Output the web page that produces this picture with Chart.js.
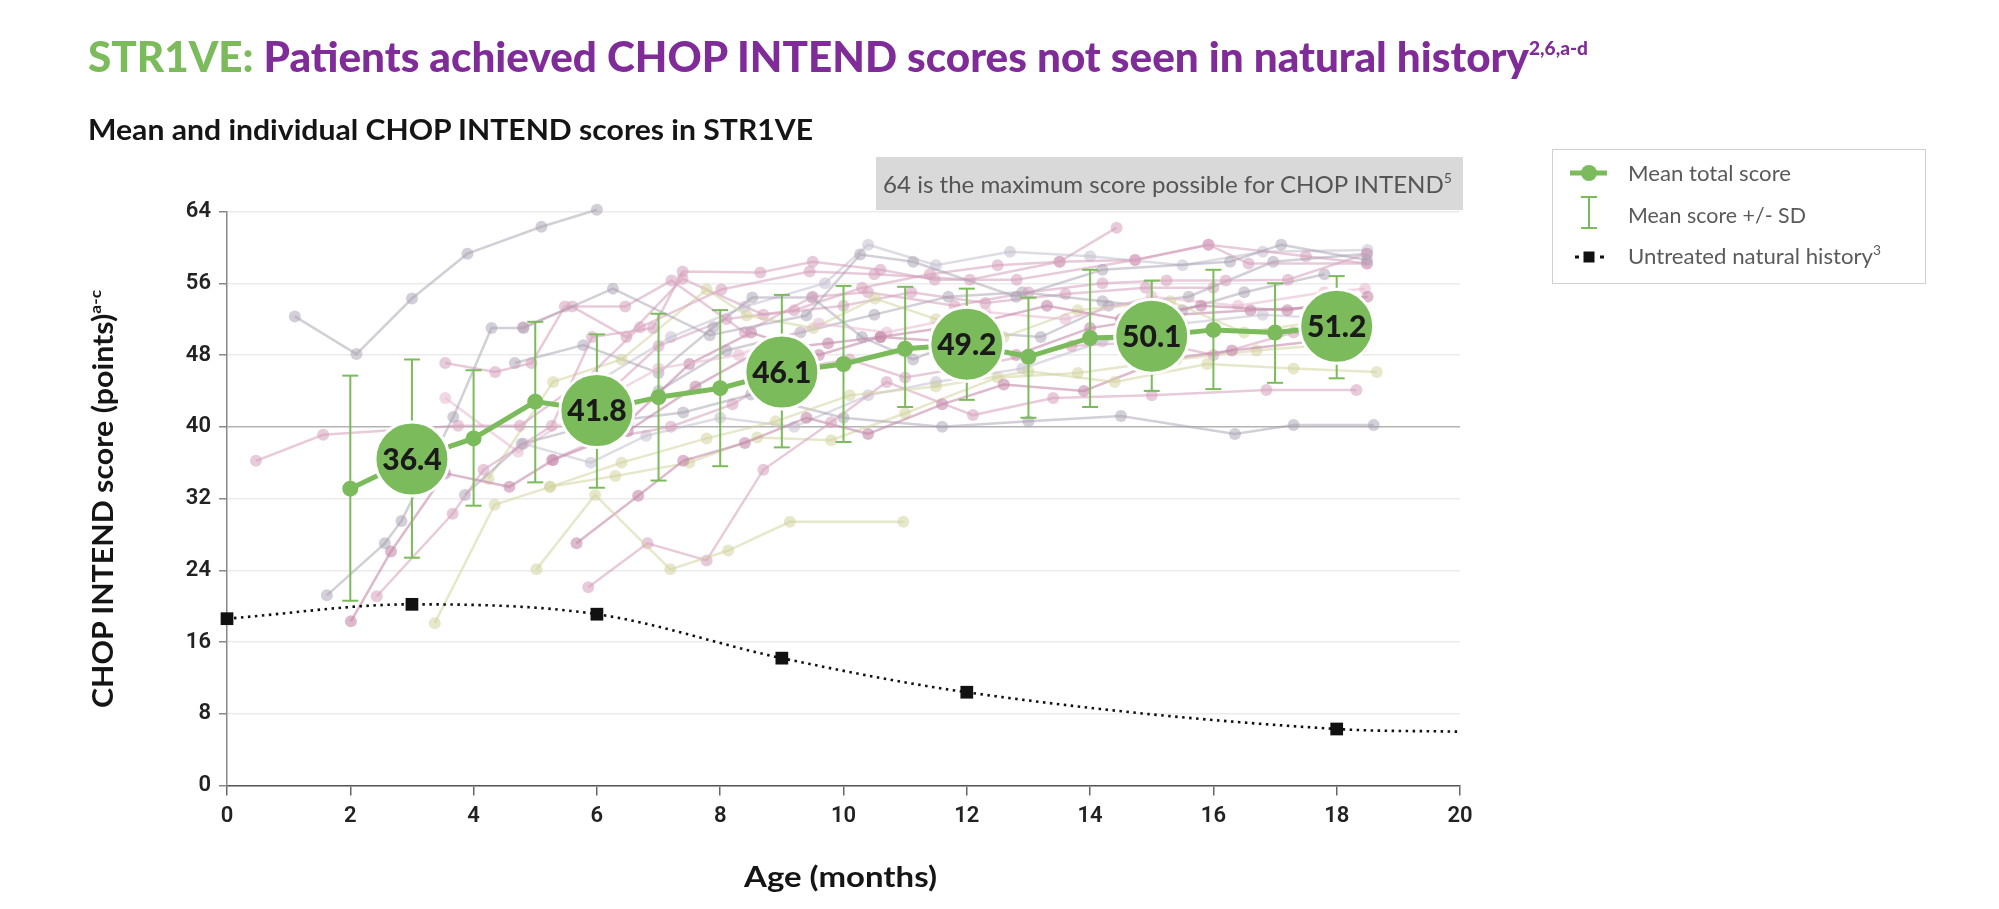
<!DOCTYPE html>
<html><head><meta charset="utf-8">
<script src="https://cdn.jsdelivr.net/npm/chart.js@4.4.1/dist/chart.umd.min.js"></script>
<style>
html,body{margin:0;padding:0;background:#fff;width:1999px;height:909px;overflow:hidden;}
#wrap{position:relative;width:1999px;height:909px;}
canvas{position:absolute;left:0;top:0;}
.t{position:absolute;white-space:nowrap;line-height:1.25;left:0;top:0;}
.sup{position:relative;vertical-align:baseline;}
#legendBox{position:absolute;left:1552px;top:149px;width:374px;height:135px;border:1.5px solid #d0d0d0;box-sizing:border-box;}
#noteBox{position:absolute;left:876px;top:157px;width:587px;height:53px;background:#d9d9d9;}
</style></head>
<body><div id="wrap">
<div id="noteBox"></div>
<canvas id="c" width="1999" height="909"></canvas>
<div id="legendBox"></div>
<div class="t" id="title" style="font:900 42px Lato;color:#7f2b98"><span style="color:#7cbb5b">STR1VE:</span> Patients achieved CHOP INTEND scores not seen in natural history<span class="sup" style="font-size:19px;top:-17px">2,6,a-d</span></div>
<div class="t" id="subtitle" style="font:700 28px Lato;color:#151515">Mean and individual CHOP INTEND scores in STR1VE</div>
<div class="t" id="note" style="font:400 24px Lato;color:#555">64 is the maximum score possible for CHOP INTEND<span class="sup" style="font-size:14px;top:-10px">5</span></div>
<div class="t" id="lg1" style="font:400 21px Lato;color:#5a5a5a">Mean total score</div>
<div class="t" id="lg2" style="font:400 21px Lato;color:#5a5a5a">Mean score +/- SD</div>
<div class="t" id="lg3" style="font:400 21px Lato;color:#5a5a5a">Untreated natural history<span class="sup" style="font-size:13px;top:-9px">3</span></div>
<div class="t" id="ytitle" style="font:700 28px Lato;color:#151515">CHOP INTEND score (points)<span class="sup" style="font-size:16px;top:-12px">a-c</span></div>
<div class="t" id="xtitle" style="font:700 28px Lato;color:#151515">Age (months)</div>
</div>
<script>
// ---------- DATA ----------
const meanAges   = [2, 3, 4, 5, 6, 7, 8, 9, 10, 11, 12, 13, 14, 15, 16, 17, 18];
const meanScores = [33.1, 36.4, 38.7, 42.8, 41.8, 43.3, 44.3, 46.1, 47.0, 48.7, 49.2, 47.8, 49.9, 50.1, 50.8, 50.5, 51.2];
const meanLabels = [null, '36.4', null, null, '41.8', null, null, '46.1', null, null, '49.2', null, null, '50.1', null, null, '51.2'];
const sdLow  = [20.6, 25.4, 31.2, 33.8, 33.2, 34.0, 35.6, 37.7, 38.3, 42.2, 43.0, 41.0, 42.2, 44.0, 44.2, 44.9, 45.4];
const sdHigh = [45.7, 47.5, 46.3, 51.7, 50.3, 52.6, 53.0, 54.7, 55.7, 55.6, 55.4, 54.4, 57.5, 56.3, 57.5, 56.0, 56.8];

const nhAges   = [0, 3, 6, 9, 12, 18, 20];
const nhScores = [18.6, 20.2, 19.1, 14.2, 10.4, 6.3, 6.0];

const xTicks = [0, 2, 4, 6, 8, 10, 12, 14, 16, 18, 20];
const yTicks = [0, 8, 16, 24, 32, 40, 48, 56, 64];

const patientAges = [
  [1.1, 2.1, 3.0, 3.9, 5.1, 6.0],
  [1.62, 2.56, 2.83, 3.67, 4.29, 4.81, 6.26, 7.83, 9.4, 10.27, 11.13, 12.8, 14.2, 16.27, 17.1, 18.49],
  [2.01, 2.66, 3.54, 4.58, 5.29, 6.5, 7.6, 8.65, 9.75, 10.6, 12.1, 13.3, 14.5, 15.8, 17.2, 18.5],
  [2.43, 3.66, 4.16, 5.27, 5.92, 6.91, 7.39, 8.65, 9.5, 10.6, 11.48, 12.81, 14.73, 15.92, 16.57, 18.49],
  [3.37, 4.34, 5.24, 6.4, 7.78, 8.9, 10.1, 11.5, 13.0, 14.4, 15.9, 17.3, 18.65],
  [5.02, 5.97, 7.19, 8.13, 9.13, 10.97],
  [5.86, 6.82, 7.78, 8.7, 9.8, 10.7, 12.1, 13.4, 15.0, 16.86, 18.32],
  [5.67, 6.67, 7.4, 8.4, 9.4, 10.4, 11.6, 12.6, 13.9, 15.2, 16.3, 17.6, 18.4],
  [3.86, 4.78, 6.1, 7.4, 8.5, 10.0, 11.6, 13.0, 14.5, 16.35, 17.3, 18.6],
  [0.47, 1.56, 3.75, 4.75, 5.8, 6.7, 8.02, 9.45, 10.5, 12.05, 13.5, 14.43],
  [3.54, 4.72, 5.8, 7.0, 8.3, 9.6, 10.7, 12.3, 13.6, 15.0, 16.4, 17.8, 18.46],
  [4.24, 5.29, 6.4, 7.78, 8.43, 9.51, 10.51, 11.5, 12.6, 13.8, 15.3, 16.5, 17.5, 18.3],
  [3.54, 4.35, 4.94, 5.48, 6.46, 7.21, 8.4, 9.5, 10.4, 11.8, 13.0, 14.2, 15.24, 16.2, 17.21, 18.49],
  [4.67, 5.78, 7.0, 7.89, 8.52, 9.49, 10.3, 11.13, 12.2, 13.2, 14.3, 15.6, 16.97, 18.49],
  [5.27, 6.0, 7.2, 8.2, 9.2, 10.1, 11.0, 12.3, 13.7, 15.0, 16.0, 17.3, 18.0],
  [4.81, 5.9, 6.8, 8.0, 9.2, 10.4, 11.5, 12.9, 14.2, 15.5, 16.8, 18.1],
  [5.24, 6.3, 7.5, 8.6, 9.8, 11.0, 12.5, 13.8, 15.4, 16.7, 17.6],
  [6.5, 7.5, 8.5, 9.6, 10.6, 11.7, 12.8, 14.0, 15.4, 16.6, 18.2],
  [5.9, 7.0, 8.1, 9.2, 10.3, 11.4, 12.5, 13.51, 14.73, 15.92, 17.5, 18.49],
  [6.0, 7.2, 8.4, 9.7, 10.4, 11.5, 12.7, 14.0, 15.5, 16.8, 18.5],
  [7.0, 8.1, 9.3, 10.5, 11.7, 12.9, 14.2, 15.5, 16.5, 17.8],
  [4.8, 5.6, 6.48, 7.39, 8.7, 10.0, 11.1, 12.3, 13.6, 14.9, 16.0]
];
const patientScores = [
  [52.3, 48.1, 54.3, 59.3, 62.3, 64.2],
  [21.2, 27.0, 29.5, 41.1, 51.0, 51.0, 55.4, 50.2, 52.4, 59.2, 58.4, 54.5, 57.5, 58.4, 60.3, 58.6],
  [18.3, 26.1, 34.8, 33.3, 36.3, 39.5, 44.5, 48.5, 49.3, 50.0, 51.5, 53.5, 52.0, 53.5, 53.0, 54.5],
  [21.1, 30.3, 35.2, 40.1, 50.0, 51.0, 57.3, 57.2, 58.4, 57.5, 56.4, 56.4, 58.6, 60.3, 58.2, 58.2],
  [18.1, 31.3, 33.3, 36.0, 38.7, 40.6, 43.5, 44.5, 46.2, 45.0, 47.0, 46.5, 46.1],
  [24.1, 32.4, 24.1, 26.2, 29.4, 29.4],
  [22.1, 27.0, 25.1, 35.2, 40.5, 45.0, 41.3, 43.2, 43.5, 44.1, 44.1],
  [27.0, 32.3, 36.2, 38.2, 41.0, 39.2, 42.5, 44.7, 44.0, 47.5, 48.5, 49.5, 48.8],
  [32.4, 38.1, 40.5, 41.6, 43.6, 41.0, 40.0, 40.6, 41.2, 39.2, 40.2, 40.2],
  [36.2, 39.1, 40.1, 40.1, 45.2, 51.1, 55.3, 57.3, 57.0, 56.4, 58.4, 62.2],
  [43.2, 37.2, 42.0, 46.5, 48.0, 51.5, 50.5, 52.8, 52.0, 54.5, 53.5, 55.0, 55.4],
  [34.2, 45.0, 47.5, 55.3, 52.4, 51.0, 54.3, 52.0, 50.0, 53.0, 54.0, 50.5, 51.5, 52.5],
  [47.1, 46.1, 47.1, 53.4, 53.4, 56.3, 50.5, 54.5, 55.0, 53.5, 55.0, 56.0, 56.3, 56.3, 56.4, 59.3],
  [47.1, 49.1, 46.0, 51.1, 54.4, 54.4, 50.0, 47.5, 50.5, 50.0, 53.5, 54.5, 58.4, 59.3],
  [36.3, 38.5, 40.0, 42.5, 46.5, 47.5, 45.5, 47.0, 49.0, 49.5, 48.0, 50.5, 49.5],
  [38.1, 36.0, 39.0, 41.0, 40.0, 43.5, 45.0, 46.5, 49.5, 51.5, 52.5, 52.0],
  [33.3, 34.5, 36.0, 38.8, 38.5, 41.5, 45.5, 46.0, 47.5, 48.5, 49.0],
  [40.5, 47.0, 50.5, 48.0, 50.0, 49.5, 48.0, 51.0, 52.5, 53.0, 53.5],
  [42.0, 49.0, 52.0, 53.0, 55.5, 57.0, 58.0, 58.4, 58.6, 60.3, 59.0, 58.2],
  [45.0, 50.0, 53.4, 56.0, 60.3, 58.0, 59.5, 59.0, 58.0, 59.5, 59.7],
  [44.0, 48.5, 50.5, 52.5, 54.5, 55.0, 54.0, 53.0, 55.0, 57.0],
  [51.1, 53.4, 50.0, 56.5, 52.5, 53.5, 55.0, 53.8, 54.8, 55.5, 55.5]
];
const patientTones = ['gray','gray','mauve','pink','beige','beige','pink','mauve','gray','pink','lightpink',
  'beige','pink','gray','pink','lightgray','beige','mauve','pink','lightgray','gray','pink'];

// ---------- STYLE ----------
const GREEN = '#7cbb5b';
const toneColor = {
  mauve: 'rgba(196,138,170,0.60)',
  pink: 'rgba(214,160,188,0.55)',
  lightpink: 'rgba(232,190,210,0.60)',
  gray: 'rgba(168,160,178,0.50)',
  lightgray: 'rgba(196,192,208,0.55)',
  beige: 'rgba(212,212,160,0.55)'
};

const datasets = [];
patientAges.forEach((ages, i) => {
  const c = toneColor[patientTones[i]];
  datasets.push({
    data: ages.map((a, j) => ({x: a, y: patientScores[i][j]})),
    borderColor: c, backgroundColor: c, pointBackgroundColor: c,
    borderWidth: 2.5, pointRadius: 6, pointBorderWidth: 0, tension: 0,
    order: 10, clip: false
  });
});
datasets.push({
  data: nhAges.map((a, j) => ({x: a, y: nhScores[j]})),
  borderColor: '#111', backgroundColor: '#111', pointBackgroundColor: '#111',
  borderWidth: 2.6, borderDash: [2.5, 4.5], cubicInterpolationMode: 'monotone',
  pointStyle: 'rect', pointRadius: c => c.dataIndex === nhAges.length - 1 ? 0 : 9, pointBorderWidth: 0,
  order: 5, clip: false
});
const errData = [];
meanAges.forEach((a, j) => { errData.push({x: a, y: sdLow[j]}, {x: a, y: sdHigh[j]}, {x: a, y: null}); });
datasets.push({
  data: errData, borderColor: GREEN, backgroundColor: GREEN, borderWidth: 2,
  pointStyle: 'line', pointRadius: 8, pointBorderWidth: 2, pointBorderColor: GREEN,
  spanGaps: false, tension: 0, order: 3, clip: false
});
const meanIndex = datasets.length;
datasets.push({
  data: meanAges.map((a, j) => ({x: a, y: meanScores[j]})),
  borderColor: GREEN, backgroundColor: GREEN, pointBackgroundColor: GREEN,
  borderWidth: 5, tension: 0,
  pointRadius: meanLabels.map(l => l ? 37 : 8),
  pointBorderColor: meanLabels.map(l => l ? '#ffffff' : GREEN),
  pointBorderWidth: meanLabels.map(l => l ? 3 : 0),
  order: 1, clip: false
});

const circleLabels = {
  id: 'circleLabels',
  afterDatasetsDraw(chart) {
    const meta = chart.getDatasetMeta(meanIndex);
    const ctx = chart.ctx;
    ctx.save();
    ctx.font = '900 30px Lato';
    ctx.fillStyle = '#1a1a1a';
    ctx.textAlign = 'center';
    ctx.textBaseline = 'middle';
    meta.data.forEach((pt, i) => { if (meanLabels[i]) ctx.fillText(meanLabels[i], pt.x, pt.y + 1); });
    ctx.restore();
  }
};
const legendIcons = {
  id: 'legendIcons',
  afterDraw(chart) {
    const ctx = chart.ctx;
    ctx.save();
    ctx.strokeStyle = GREEN; ctx.lineWidth = 5;
    ctx.beginPath(); ctx.moveTo(1570, 173); ctx.lineTo(1607, 173); ctx.stroke();
    ctx.fillStyle = GREEN; ctx.beginPath(); ctx.arc(1589, 173, 8, 0, Math.PI * 2); ctx.fill();
    ctx.lineWidth = 2;
    ctx.beginPath(); ctx.moveTo(1589, 197); ctx.lineTo(1589, 228);
    ctx.moveTo(1581, 197); ctx.lineTo(1597, 197);
    ctx.moveTo(1581, 228); ctx.lineTo(1597, 228); ctx.stroke();
    ctx.fillStyle = '#111';
    ctx.fillRect(1575, 255.5, 4, 3); ctx.fillRect(1600, 255.5, 4, 3);
    ctx.fillRect(1583.5, 251.5, 11, 11);
    ctx.restore();
  }
};

new Chart(document.getElementById('c'), {
  type: 'line',
  data: {datasets},
  options: {
    responsive: false, animation: false, devicePixelRatio: 1, events: [],
    layout: {padding: {left: 0, right: 539, top: 211.5, bottom: 0}},
    plugins: {legend: {display: false}, tooltip: {enabled: false}},
    scales: {
      x: {
        type: 'linear', min: 0, max: 20,
        afterBuildTicks: s => { s.ticks = xTicks.map(v => ({value: v})); },
        ticks: {color: '#222', font: {family: 'Roboto', size: 22, weight: '600'}, padding: 8},
        grid: {drawOnChartArea: false, drawTicks: true, tickLength: 10, color: '#666', lineWidth: 1.5},
        border: {color: '#555', width: 1.5},
        afterFit: s => { s.height = 123.5; }
      },
      y: {
        type: 'linear', min: 0, max: 64,
        afterBuildTicks: s => { s.ticks = yTicks.map(v => ({value: v})); },
        ticks: {color: '#222', font: {family: 'Roboto', size: 22, weight: '600'}, padding: 8},
        grid: {color: c => (c.tick && c.tick.value === 40) ? '#b3b3b3' : '#ebebeb', lineWidth: 1.5, tickLength: 8, tickColor: '#888'},
        border: {color: '#888', width: 1.5},
        afterFit: s => { s.width = 227; }
      }
    }
  },
  plugins: [circleLabels, legendIcons]
});

// ---------- TEXT PLACEMENT ----------
function baselineOffset(el) {
  const p = document.createElement('span');
  p.style.cssText = 'display:inline-block;width:0;height:0;vertical-align:baseline;';
  el.appendChild(p);
  const off = p.getBoundingClientRect().top - el.getBoundingClientRect().top;
  el.removeChild(p);
  return off;
}
function place(id, x, base, tw, align) {
  const el = document.getElementById(id);
  el.style.transform = 'none'; el.style.left = '0px'; el.style.top = '0px';
  const w = el.getBoundingClientRect().width;
  const b = baselineOffset(el);
  const s = tw ? tw / w : 1;
  el.style.transformOrigin = '0 0';
  el.style.transform = 'scaleX(' + s + ')';
  el.style.left = (align === 'center' ? x - w * s / 2 : x) + 'px';
  el.style.top = (base - b) + 'px';
}
function placeRot(id, baseX, cy, tl) {
  const el = document.getElementById(id);
  el.style.transform = 'none'; el.style.left = '0px'; el.style.top = '0px';
  const w = el.getBoundingClientRect().width;
  const b = baselineOffset(el);
  const s = tl ? tl / w : 1;
  el.style.transformOrigin = '0 0';
  el.style.transform = 'rotate(-90deg) scaleX(' + s + ')';
  el.style.left = (baseX - b) + 'px';
  el.style.top = (cy + s * w / 2) + 'px';
}
place('title', 88, 72, 1500);
place('subtitle', 88, 140, 725);
place('note', 883, 193, 569);
place('lg1', 1628, 181, 163);
place('lg2', 1628, 223, 178);
place('lg3', 1628, 264, 253);
place('xtitle', 840, 887, 193, 'center');
placeRot('ytitle', 113, 499, 418);
</script>
</body></html>
